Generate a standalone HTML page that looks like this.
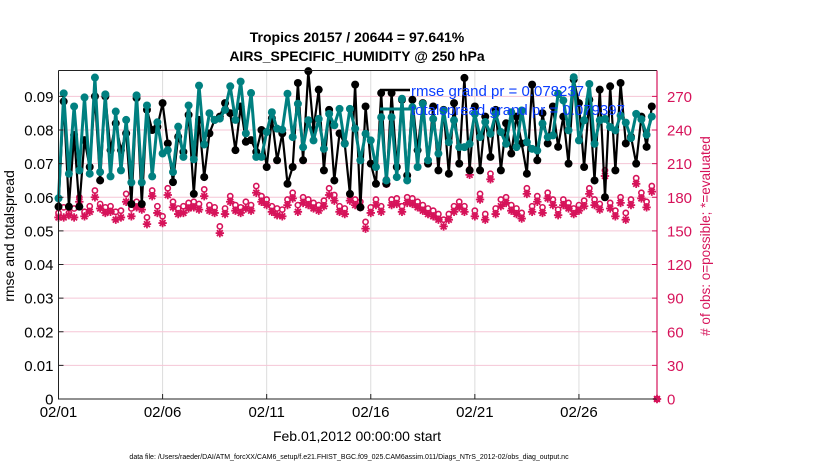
<!DOCTYPE html>
<html><head><meta charset="utf-8">
<style>
html,body{margin:0;padding:0;background:#fff;}
svg text{font-family:"Liberation Sans",sans-serif;}
</style></head>
<body>
<svg id="chart" width="830" height="470" viewBox="0 0 830 470" xmlns="http://www.w3.org/2000/svg">
<g id="grid"></g>
<g id="series"></g>
<g id="axes"></g>
<text x="357" y="42" text-anchor="middle" font-size="14" font-weight="bold">Tropics 20157 / 20644 = 97.641%</text>
<text x="357" y="61" text-anchor="middle" font-size="14" font-weight="bold">AIRS_SPECIFIC_HUMIDITY @ 250 hPa</text>
<text x="357" y="441" text-anchor="middle" font-size="14">Feb.01,2012 00:00:00 start</text>
<text transform="translate(14,236) rotate(-90)" text-anchor="middle" font-size="14">rmse and totalspread</text>
<text transform="translate(710,236) rotate(-90)" text-anchor="middle" font-size="13.5" fill="#d6135a"># of obs: o=possible; *=evaluated</text>
<text x="349" y="459" text-anchor="middle" font-size="7">data file: /Users/raeder/DAI/ATM_forcXX/CAM6_setup/f.e21.FHIST_BGC.f09_025.CAM6assim.011/Diags_NTrS_2012-02/obs_diag_output.nc</text>
<g id="legend"></g>
</svg>
<script>
const xTickLabels=["02/01","02/06","02/11","02/16","02/21","02/26"];
const xTickDays=[0,5,10,15,20,25];
const yLeftTicks=[0,0.01,0.02,0.03,0.04,0.05,0.06,0.07,0.08,0.09];
const yRightTicks=[0,30,60,90,120,150,180,210,240,270];
const spread=[0.0597,0.0909,0.067,0.087,0.068,0.0897,0.067,0.0956,0.0675,0.0906,0.0662,0.0855,0.068,0.083,0.0644,0.0903,0.0644,0.0873,0.0662,0.0823,0.073,0.074,0.0675,0.081,0.072,0.0873,0.0713,0.0932,0.0757,0.085,0.083,0.0834,0.086,0.093,0.083,0.0944,0.079,0.091,0.072,
0.0720,0.0794,0.0853,0.0804,0.0801,0.0908,0.0779,0.0878,0.0749,0.0829,0.0769,0.0833,0.0744,0.0848,0.0814,0.0863,0.0759,0.0863,0.0804,0.0710,0.0789,0.0769,0.0690,0.0838,0.0650,0.0838,0.0660,0.0893,0.0650,0.0868,0.0690,0.0878,0.0710,0.0833,0.0730,0.0858,0.0764,0.0829,0.0749,
0.0749,0.0759,0.0848,0.0779,0.0824,0.0789,0.0848,0.0794,0.0759,0.0853,0.0749,0.0858,0.0764,0.0744,0.0739,0.0819,0.0779,0.0784,0.0908,0.0888,0.0799,0.0957,0.0769,0.0829,0.0937,0.0759,0.0829,0.0833,0.0809,0.0799,0.0843,0.0822,0.0776,0.0848,0.0832,0.0786,0.0840];
const rmse=[0.0572,0.0885,0.0572,0.0785,0.0572,0.0770,0.0690,0.0900,0.0650,0.0900,0.0740,0.0820,0.0740,0.0790,0.0580,0.0895,0.0580,0.0860,0.0800,0.0810,0.0880,0.0760,0.0645,0.0780,0.0735,0.0845,0.0610,0.0830,0.0660,0.0790,0.0830,0.0840,0.0880,0.0850,0.0740,0.0870,0.0765,0.0770,0.0735,
0.0800,0.0690,0.0835,0.0710,0.0790,0.0640,0.0690,0.0940,0.0710,0.0975,0.0800,0.0920,0.0680,0.0860,0.0650,0.0790,0.0760,0.0610,0.0935,0.0570,0.0870,0.0700,0.0640,0.0910,0.0640,0.0910,0.0690,0.0890,0.0665,0.0890,0.0740,0.0880,0.0700,0.0870,0.0680,0.0860,0.0670,0.0880,0.0700,
0.0955,0.0680,0.0870,0.0680,0.0840,0.0720,0.0860,0.0680,0.0820,0.0730,0.0840,0.0760,0.0670,0.0935,0.0710,0.0850,0.0760,0.0870,0.0750,0.0840,0.0700,0.0950,0.0880,0.0690,0.0890,0.0650,0.0920,0.0600,0.0930,0.0680,0.0940,0.0760,0.0780,0.0700,0.0840,0.0750,0.0870];
const possible=[166,171,166,170,180,167,172,186,174,171,172,167,168,183,170,176,174,162,186,172,163,188,176,170,172,175,176,174,187,173,171,154,170,181,173,171,176,173,190,
181,178,172,170,169,178,184,173,180,178,175,173,177,188,182,172,170,182,178,176,158,171,178,172,196,178,179,172,180,179,176,173,170,168,165,160,165,172,176,
172,205,168,183,165,201,170,178,180,173,170,166,188,172,181,171,184,178,169,178,175,170,173,177,188,178,174,204,175,168,180,166,178,197,184,176,190,0];
const evaluated=[162,162,164,162,176,163,167,180,170,166,167,160,162,176,163,171,169,156,181,166,157,182,171,165,166,170,171,169,181,168,166,148,165,176,168,166,170,168,184,
176,173,167,164,163,173,179,167,175,173,170,168,172,182,177,167,165,177,173,171,152,166,173,167,192,173,174,167,175,174,171,168,165,163,160,154,160,167,171,
167,200,163,178,160,196,165,172,175,168,165,161,183,167,176,166,179,173,164,173,170,165,168,172,183,173,169,199,170,163,175,160,173,192,179,171,185,0];

const L=58.5,R=657,T=70.5,B=399;
const xMax=28.75, yMax=0.0977, y2Max=293.1;
const NS='http://www.w3.org/2000/svg';
function xs(d){return L+(d/xMax)*(R-L);}
function ys(v){return B-(v/yMax)*(B-T);}
function ys2(v){return B-(v/y2Max)*(B-T);}
function mk(tag,attrs,parent){const e=document.createElementNS(NS,tag);for(const k in attrs)e.setAttribute(k,attrs[k]);parent.appendChild(e);return e;}
const grid=document.getElementById('grid'),axes=document.getElementById('axes'),ser=document.getElementById('series'),leg=document.getElementById('legend');
const PINK='#d6135a',TEAL='#008080';
xTickDays.forEach((d,i)=>{
  const g=mk('line',{x1:xs(d),x2:xs(d),y1:T,y2:B,stroke:'#dcdcdc','stroke-width':1},grid);
  
  
  const tk=mk('line',{x1:xs(d),x2:xs(d),y1:B,y2:B-5,stroke:'#222','stroke-width':1},axes);
  
  
  const t=mk('text',{x:xs(d),y:B+18,'text-anchor':'middle','font-size':15},axes);
  t.textContent=xTickLabels[i];
  
  
});
yRightTicks.forEach(v=>{
  if(v>0){const g=mk('line',{x1:L,x2:R,y1:ys2(v),y2:ys2(v),stroke:'#f5c6d6','stroke-width':1},grid);
  
  }
  const tk=mk('line',{x1:R,x2:R-5,y1:ys2(v),y2:ys2(v),stroke:PINK,'stroke-width':1},axes);
  
  
  const t=mk('text',{x:R+10,y:ys2(v)+5.5,'font-size':15,fill:PINK},axes);
  t.textContent=String(v);
  
  
});
yLeftTicks.forEach(v=>{
  const tk=mk('line',{x1:L,x2:L+5,y1:ys(v),y2:ys(v),stroke:'#222','stroke-width':1},axes);
  
  
  const t=mk('text',{x:L-5,y:ys(v)+5.5,'text-anchor':'end','font-size':15},axes);
  t.textContent=v===0?'0':v.toFixed(2);
  
  
});
const bx=mk('path',{d:`M${L},${T}H${R}M${L},${T}V${B}H${R}`,fill:'none',stroke:'#222','stroke-width':1},axes);


const ra=mk('line',{x1:R,x2:R,y1:T,y2:B,stroke:PINK,'stroke-width':1.2},axes);


possible.forEach((v,i)=>{
  const c=mk('circle',{cx:xs(i*0.25),cy:ys2(v),r:2.6,fill:'none',stroke:PINK,'stroke-width':1.6},ser);
  
  
});
evaluated.forEach((v,i)=>{
  const x=xs(i*0.25),y=ys2(v),s=4.2;
  const p=mk('path',{d:`M${x-s},${y}H${x+s}M${x},${y-s}V${y+s}M${x-s*0.7},${y-s*0.7}L${x+s*0.7},${y+s*0.7}M${x-s*0.7},${y+s*0.7}L${x+s*0.7},${y-s*0.7}`,stroke:PINK,'stroke-width':1.8},ser);
  
  
});
function series(arr,color,w,name){
  const pts=arr.map((v,i)=>xs(i*0.25).toFixed(1)+','+ys(v).toFixed(1)).join(' ');
  const pl=mk('polyline',{points:pts,fill:'none',stroke:color,'stroke-width':w,'stroke-linejoin':'round'},ser);
  
  
  arr.forEach((v,i)=>{
    const c=mk('circle',{cx:xs(i*0.25),cy:ys(v),r:4,fill:color},ser);
    
    
  });
}
series(rmse,'#000',2.2,'rmse');
series(spread,TEAL,3,'totalspread');
const l1=mk('line',{x1:380,x2:410,y1:90,y2:90,stroke:'#000','stroke-width':2.5},leg);


const l2=mk('line',{x1:380,x2:410,y1:109,y2:109,stroke:TEAL,'stroke-width':3},leg);


const t1=mk('text',{x:411,y:96,'font-size':15,fill:'#0a3cff'},leg);
t1.textContent='rmse grand pr = 0.078237';


const t2=mk('text',{x:411,y:115,'font-size':15,fill:'#0a3cff'},leg);
t2.textContent='totalspread grand pr = 0.079397';


</script>
</body></html>
